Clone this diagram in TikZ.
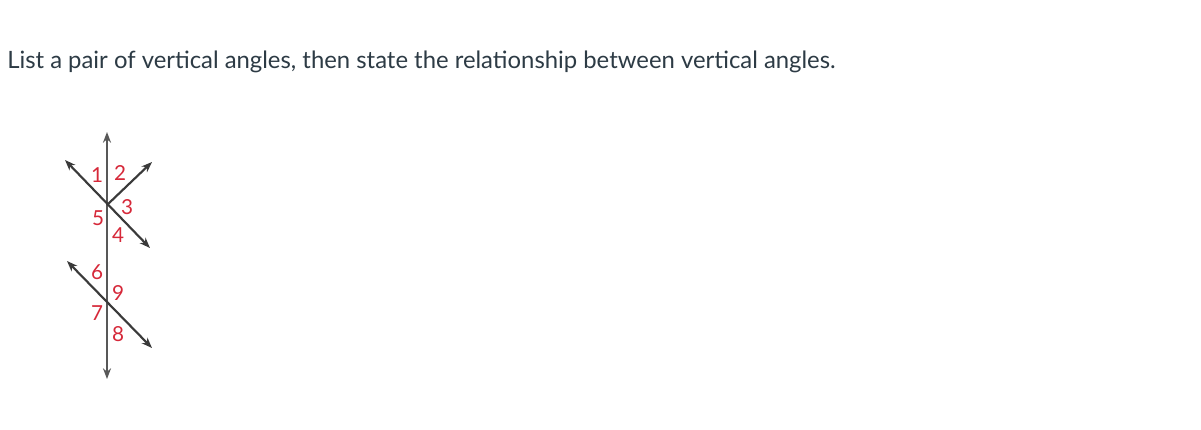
\documentclass[tikz,border=0pt]{standalone}
\usepackage{fontspec}
\setmainfont{Lato}
\usetikzlibrary{arrows.meta}
\definecolor{lbl}{HTML}{D62839}
\definecolor{ln}{HTML}{3A3A3A}
\definecolor{txt}{HTML}{2D3B45}
\begin{document}
\begin{tikzpicture}[x=0.75pt,y=-0.75pt,
  tip/.tip={Stealth[length=8pt,width=6pt]},
  geo/.style={draw=ln,line width=1.6pt},
  num/.style={text=lbl,font=\fontsize{15.5}{16}\selectfont,inner sep=0pt}]
\useasboundingbox (0,0) rectangle (1201,429);
\fill[white] (0,0) rectangle (1201,429);
\node[anchor=base west,inner sep=0pt,text=txt,font=\fontsize{17.9}{21}\selectfont] (q) at (7,68)
  {List a pair of vertical angles, then state the relationship between vertical angles.};
% points
\coordinate (A) at (107,205);
\coordinate (B) at (107,304);
\coordinate (top) at (107,132);
\coordinate (bot) at (107,379);
\coordinate (ul) at (65,160);
\coordinate (lr) at (150,248);
\coordinate (ur) at (152,162);
\coordinate (ul2) at (67,261);
\coordinate (lr2) at (152,348);
\draw[geo,draw=ln!85,tip-tip] (top) -- (bot);
\draw[geo,tip-tip] (ul) -- (lr);
\draw[geo,-tip] (A) -- (ur);
\draw[geo,tip-tip] (ul2) -- (lr2);
\node[num] (n1) at (97,175) {1};
\node[num] (n2) at (120,173) {2};
\node[num] (n3) at (127,207) {3};
\node[num] (n5) at (98,218) {5};
\node[num] (n4) at (118,235) {4};
\node[num] (n6) at (97,272) {6};
\node[num] (n9) at (118,293) {9};
\node[num] (n7) at (97,313) {7};
\node[num] (n8) at (118,334) {8};
\end{tikzpicture}
\end{document}
